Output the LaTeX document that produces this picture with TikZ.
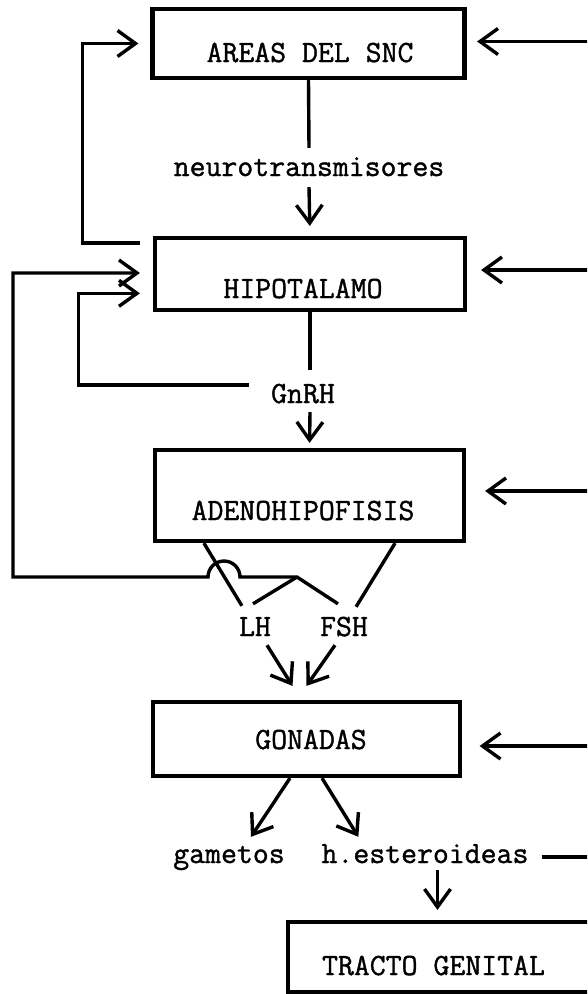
\documentclass[tikz,border=0pt]{standalone}
\usepackage{fontspec}
\newfontfamily\twfont{Latin Modern Mono}[FakeBold=1.2]
\usetikzlibrary{arrows.meta,calc}
\begin{document}
\begin{tikzpicture}[x=1pt,y=-1pt,
  boxs/.style={draw, line width=4.2pt, inner sep=0pt},
  lbl/.style={inner sep=0pt, anchor=base, font=\fontsize{30.9pt}{34pt}\selectfont\twfont, text height=18pt, text depth=0pt},
  conn/.style={line width=3.4pt},
  arr/.style={conn, -{Straight Barb[length=18pt,width=26pt]}}]
\useasboundingbox (0,0) rectangle (587,994);
\fill[white] (0,0) rectangle (587,994);
\clip (0,0) rectangle (587,994);

% boxes
\node[boxs, minimum width=312pt, minimum height=69pt] (snc) at (308.5,43.5) {};
\node[boxs, minimum width=310pt, minimum height=72pt] (hip) at (310,274) {};
\node[boxs, minimum width=309pt, minimum height=91pt] (adeno) at (309.5,495.5) {};
\node[boxs, minimum width=307pt, minimum height=74pt] (gon) at (306.5,739) {};
\node[boxs, minimum width=432pt, minimum height=70pt] (tract) at (504,957) {};

% box texts
\node[lbl] (snct) at (310,62) {AREAS DEL SNC};
\node[lbl] (hipt) at (303,298) {HIPOTALAMO};
\node[lbl] (adenot) at (303,520) {ADENOHIPOFISIS};
\node[lbl] (gont) at (311,749) {GONADAS};
\node[lbl] (tractt) at (433.5,975) {TRACTO GENITAL};

% labels
\node[lbl] (neuro) at (309,176) {neurotransmisores};
\node[lbl] (gnrh) at (303,403) {GnRH};
\node[lbl] (lh) at (255,636) {LH};
\node[lbl] (fsh) at (344,636) {FSH};
\node[lbl] (gam) at (229,863) {gametos};
\node[lbl] (hest) at (425,863) {h.esteroideas};

% main chain
\draw[conn] (snc.south) -- ([yshift=10pt]neuro.north);
\draw[arr, shorten >=10pt] ([yshift=-11pt]neuro.south) -- (hip.north);
\draw[conn] (hip.south) -- ($(hip.south |- gnrh.north)+(0,-15)$);
\draw[arr, shorten >=5pt] ($(hip.south |- gnrh.south)+(0,9)$) -- (adeno.north);

% GnRH feedback
\draw[arr, shorten >=13pt] ([xshift=-22pt]gnrh.north west) -| ($(hip.west)+(-74.5,19.3)$) -- ($(hip.west)+(0,19.3)$);

% SNC loop
\draw[arr, shorten >=12pt] ([xshift=-13pt,yshift=-7pt]hip.north west) -| ($(snc.west)+(-68,0)$) -- (snc.west);

% LH / FSH feedback
\coordinate (jn) at (297,577);
\draw[conn] ([xshift=-2pt,yshift=14pt]lh.north) -- (jn);
\draw[arr, shorten >=13pt] ([xshift=-6pt,yshift=14pt]fsh.north) -- (jn) -- ++(-57,0)
  arc[start angle=0, end angle=180, radius=16pt] -- ++(-195,0) |- ($(hip.west)+(0,-1)$);

% adenohipofisis to LH / FSH
\draw[conn] ([xshift=51pt]adeno.south west) -- ([xshift=3pt,yshift=12pt]lh.north west);
\draw[conn] ([xshift=-71pt]adeno.south east) -- ([xshift=-12pt,yshift=11pt]fsh.north east);

% LH / FSH to gonadas
\draw[arr] ([xshift=12pt,yshift=-9pt]lh.south) -- ([xshift=-14pt,yshift=14pt]gon.north);
\draw[arr] ([xshift=-9pt,yshift=-9pt]fsh.south) -- ([yshift=14pt]gon.north);

% gonadas products
\draw[arr] ([xshift=-16.5pt]gon.south) -- ([xshift=22pt,yshift=8pt]gam.north);
\draw[arr] ([xshift=15.5pt]gon.south) -- ([xshift=37pt,yshift=8pt]hest.north west);

% h.esteroideas outputs
\coordinate (redge) at (600,857);
\draw[conn] ([xshift=13pt,yshift=-3pt]hest.east) -- (redge);
\draw[arr, shorten >=10pt] ([xshift=12.5pt,yshift=-7pt]hest.south) coordinate (hs) -- (hs |- tract.north);

% incoming arrows from the right
\coordinate (rsnc) at (600,41.5);
\coordinate (rhip) at (600,270);
\coordinate (radeno) at (600,491);
\coordinate (rgon) at (600,746);
\draw[arr, shorten >=10.5pt] (rsnc) -- (rsnc -| snc.east);
\draw[arr, shorten >=14pt] (rhip) -- (rhip -| hip.east);
\draw[arr, shorten >=19pt] (radeno) -- (radeno -| adeno.east);
\draw[arr, shorten >=17.5pt] (rgon) -- (rgon -| gon.east);
\end{tikzpicture}
\end{document}
